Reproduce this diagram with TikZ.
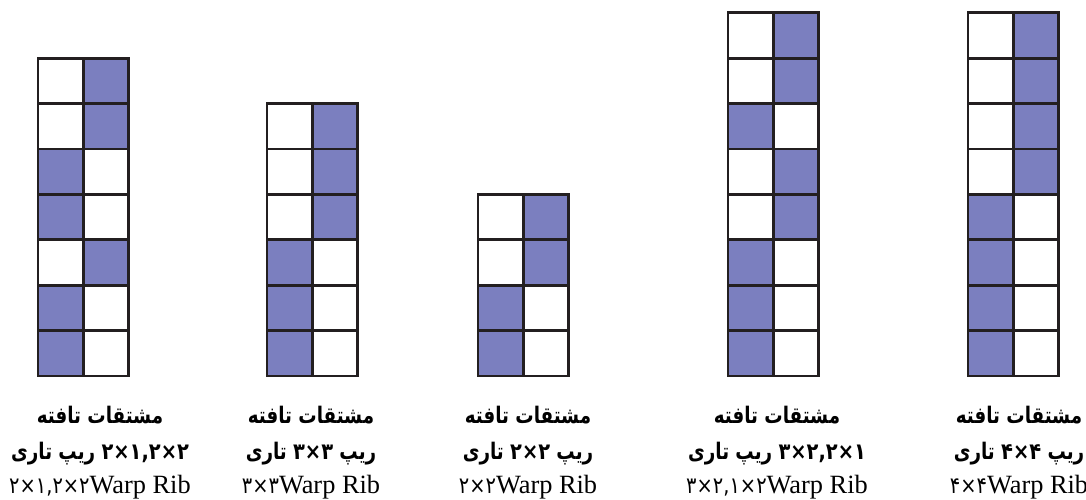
\documentclass[tikz,border=0pt]{standalone}
\usepackage{fontspec}
\setmainfont{Liberation Serif}
\newfontfamily\arabicfont[Script=Arabic, FakeStretch=0.8]{DejaVu Sans}
\newfontfamily\digitfont[FakeStretch=0.85]{DejaVu Sans}
\TeXXeTstate=1
\usetikzlibrary{calc}

\definecolor{ribfill}{RGB}{123,127,191}
\definecolor{gridline}{RGB}{35,31,32}

\newcommand{\cellsz}{0.908}
% #1 left edge, #2 rows, #3 filled side per row from the bottom (0 = left, 1 = right)
\newcommand{\ribgrid}[3]{%
  \begin{scope}[shift={(#1,2.46)}]
    \foreach \s [count=\r from 0] in {#3}
      \fill[ribfill] (\s*\cellsz, \r*\cellsz) rectangle ++(\cellsz, \cellsz);
    \foreach \r in {1,...,#2}
      \draw[gridline] (0, \r*\cellsz-\cellsz) -- (2*\cellsz, \r*\cellsz-\cellsz);
    \draw[gridline] (\cellsz, 0) -- (\cellsz, #2*\cellsz);
    \draw[gridline] (0, 0) rectangle (2*\cellsz, #2*\cellsz);
  \end{scope}}

\newcommand{\ribdig}[1]{{\digitfont\fontsize{13}{15}\selectfont #1}}

\tikzset{
  gridline/.style={draw=gridline, line width=1.6pt},
  fatext/.style={anchor=base, inner sep=0pt, font=\arabicfont\bfseries\fontsize{13}{15}\selectfont},
  entext/.style={anchor=base, inner sep=0pt, font=\fontsize{15}{17}\selectfont},
}

\begin{document}
\begin{tikzpicture}
\useasboundingbox (0,0) rectangle (21.72,9.98);

% ---------------- Weave Grids ----------------
\ribgrid{0.76}{7}{0,0,1,0,0,1,1}
\ribgrid{5.34}{6}{0,0,0,1,1,1}
\ribgrid{9.56}{4}{0,0,1,1}
\ribgrid{14.56}{8}{0,0,0,1,1,0,1,1}
\ribgrid{19.36}{8}{0,0,0,0,1,1,1,1}

% ---------------- Labels ----------------
% (1) 2x1,2x2
\node[fatext] (t1a) at (2.00, 1.52) {\beginR مشتقات تافته\endR};
\node[fatext] (t1b) at (2.00, 0.80) {\beginR\beginL{\digitfont\bfseries ۲×۱,۲×۲}\endL{} ریپ تاری\endR};
\node[entext] (t1c) at (2.00, 0.12) {\ribdig{۲×۱,۲×۲}Warp Rib};

% (2) 3x3
\node[fatext] (t2a) at (6.22, 1.52) {\beginR مشتقات تافته\endR};
\node[fatext] (t2b) at (6.22, 0.80) {\beginR ریپ \beginL{\digitfont\bfseries ۳×۳}\endL{} تاری\endR};
\node[entext] (t2c) at (6.22, 0.12) {\ribdig{۳×۳}Warp Rib};

% (3) 2x2
\node[fatext] (t3a) at (10.56, 1.52) {\beginR مشتقات تافته\endR};
\node[fatext] (t3b) at (10.56, 0.80) {\beginR ریپ \beginL{\digitfont\bfseries ۲×۲}\endL{} تاری\endR};
\node[entext] (t3c) at (10.56, 0.12) {\ribdig{۲×۲}Warp Rib};

% (4) 3x2,1x2
\node[fatext] (t4a) at (15.54, 1.52) {\beginR مشتقات تافته\endR};
\node[fatext] (t4b) at (15.54, 0.80) {\beginR\beginL{\digitfont\bfseries ۳×۲,۲×۱}\endL{} ریپ تاری\endR};
\node[entext] (t4c) at (15.54, 0.12) {\ribdig{۳×۲,۱×۲}Warp Rib};

% (5) 4x4
\node[fatext] (t5a) at (20.38, 1.52) {\beginR مشتقات تافته\endR};
\node[fatext] (t5b) at (20.38, 0.80) {\beginR ریپ \beginL{\digitfont\bfseries ۴×۴}\endL{} تاری\endR};
\node[entext] (t5c) at (20.38, 0.12) {\ribdig{۴×۴}Warp Rib};

\end{tikzpicture}
\end{document}
